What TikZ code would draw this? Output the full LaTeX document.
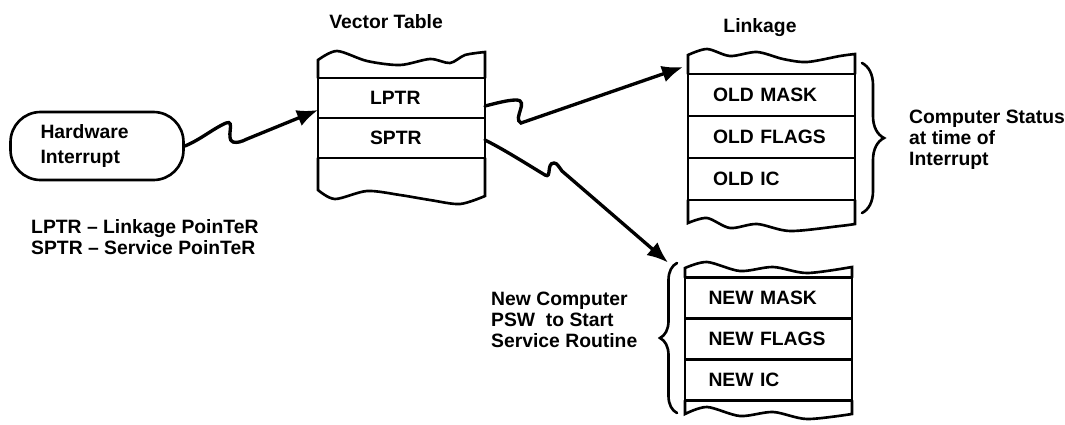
\documentclass[tikz,border=0pt]{standalone}
\usepackage{fontspec}
\setmainfont{Liberation Sans}
\usetikzlibrary{positioning,arrows.meta,decorations.pathreplacing}

\begin{document}
\begin{tikzpicture}[
  x=0.02cm, y=-0.02cm,
  line cap=round,
  font=\bfseries\fontsize{11}{12}\selectfont,
  edge/.style={line width=1.5pt},
  wire/.style={line width=1.9pt, -{Latex[length=0.42cm,width=0.34cm]}},
  cell/.style={draw, line width=1.5pt, inner sep=0pt, outer sep=0pt,
    align=left, minimum width=3.34cm},
  vcell/.style={cell, text width=1.26cm, minimum height=0.8cm},
  lcell/.style={cell, text width=2.34cm, minimum height=0.84cm},
  ncell/.style={cell, text width=2.4cm, minimum height=0.82cm},
  brace/.style={line width=1.5pt, decorate, decoration={brace,amplitude=#1}},
  note/.style={anchor=west, align=left}
]
  % 画布
  \useasboundingbox (0,0) rectangle (1065,424);

  % 硬件中断
  \node[draw, line width=1.5pt, rounded corners=0.6cm,
    minimum height=1.36cm, text width=2.26cm, inner xsep=0.6cm,
    align=left, font=\bfseries\fontsize{11}{14}\selectfont]
    (hw) at (97,146) {Hardware\\Interrupt};

  % 向量表
  \node (vtitle) at (386,22) {Vector Table};
  \node[vcell] (lptr) at (401.5,98) {LPTR};
  \node[vcell, below=0pt of lptr] (sptr) {SPTR};
  \draw[edge] (lptr.north west) -- plot[smooth] coordinates
    {(318,60) (337,51) (367,61) (400,65) (430,59) (450,63) (465,55) (485,52)}
    -- (lptr.north east);
  \draw[edge] (sptr.south west) -- plot[smooth] coordinates
    {(318,190) (335,199) (367,191) (400,195) (430,200) (460,204) (485,196)}
    -- (sptr.south east);

  % 链接区
  \node (ltitle) at (760,28) {Linkage};
  \node[lcell] (oldmask) at (771.5,95) {OLD MASK};
  \node[lcell, below=0pt of oldmask] (oldflags) {OLD FLAGS};
  \node[lcell, below=0pt of oldflags] (oldic) {OLD IC};
  \draw[edge] (oldmask.north west) -- plot[smooth] coordinates
    {(688,55) (707,49) (730,56) (757,52) (783,59) (807,62) (840,56) (855,54)}
    -- (oldmask.north east);
  \draw[edge] (oldic.south west) -- plot[smooth] coordinates
    {(688,223) (707,218) (730,228) (757,224) (790,231) (840,226) (855,224)}
    -- (oldic.south east);

  % 新 PSW
  \node[ncell] (newmask) at (768.5,298) {NEW MASK};
  \node[ncell, below=0pt of newmask] (newflags) {NEW FLAGS};
  \node[ncell, below=0pt of newflags] (newic) {NEW IC};
  \draw[edge] (newmask.north west) -- plot[smooth] coordinates
    {(685,268) (707,262) (740,271) (773,267) (807,273) (852,267)}
    -- (newmask.north east);
  \draw[edge] (newic.south west) -- plot[smooth] coordinates
    {(685,414) (707,407) (740,416) (773,412) (807,419) (852,414)}
    -- (newic.south east);

  % 箭头
  \draw[wire] (hw.east) .. controls (200,140) and (214,128) .. (226,123)
    .. controls (236,119) and (225,139) .. (233,142)
    .. controls (237,143) and (241,142) .. (247,139)
    -- ([yshift=-0.24cm]lptr.west);
  \draw[wire] ([yshift=-0.16cm]lptr.east)
    .. controls (497,103) and (508,100) .. (516,100)
    .. controls (530,100) and (512,119) .. (521,123)
    -- ([xshift=-0.1cm,yshift=0.14cm]oldmask.north west);
  \draw[wire] ([yshift=-0.04cm]sptr.east)
    .. controls (505,150) and (530,166) .. (545,175)
    .. controls (552,179) and (546,163) .. (554,163)
    .. controls (557,163) and (559,167) .. (562,171)
    -- ([xshift=-0.34cm,yshift=0.3cm]newmask.north west);

  % 括号
  \draw[brace=0.44cm] (862,63) -- (862,213);
  \draw[brace=0.34cm] (677,413) -- (677,263);

  % 说明文字
  \node[note] (status) at (903,140) {Computer Status\\at time of\\Interrupt};
  \node[note] (newpsw) at (485,320) {New Computer\\PSW\ \ to Start\\Service Routine};
  \node[note] (legend) at (25,237) {LPTR -- Linkage PoinTeR\\SPTR -- Service PoinTeR};

\end{tikzpicture}
\end{document}
